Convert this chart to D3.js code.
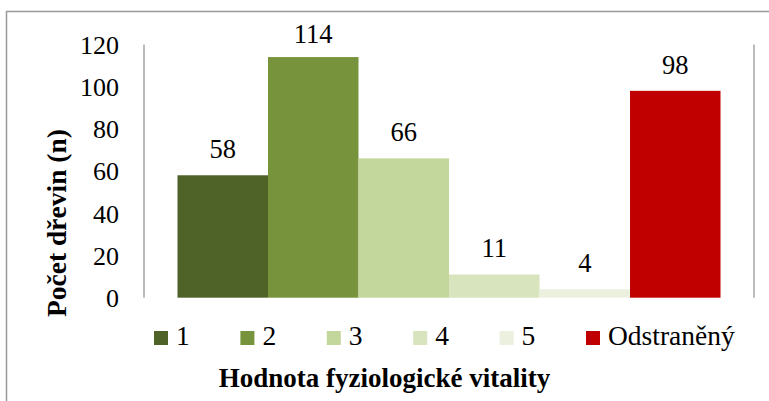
<!DOCTYPE html>
<html>
<head>
<meta charset="utf-8">
<script src="https://cdn.jsdelivr.net/npm/d3@7"></script>
<style>
  html, body { margin: 0; padding: 0; background: #fff; }
</style>
</head>
<body>
<svg id="chart"></svg>
<script>
// data
const categories = ["1", "2", "3", "4", "5", "Odstraněný"];
const counts = [58, 114, 66, 11, 4, 98];
const barColors = ["#4f6228", "#77933c", "#c3d69b", "#d7e4bd", "#ebf1de", "#c00000"];
const yTicks = [0, 20, 40, 60, 80, 100, 120];
const yTitle = "Počet dřevin (n)";
const xTitle = "Hodnota fyziologické vitality";

const FONT = '"Liberation Serif"';
const width = 769, height = 401;
const svg = d3.select("#chart").attr("width", width).attr("height", height);

// outer frame (only left and top visible, rest is cropped)
svg.append("path")
  .attr("d", `M6.5,${height} L6.5,11.5 L${width},11.5`)
  .attr("fill", "none")
  .attr("stroke", "#999")
  .attr("stroke-width", 1.5);

// plot area
const plot = { left: 144, right: 754, top: 44.4, bottom: 297.7 };

const x = d3.scaleBand()
  .domain(categories)
  .range([plot.left, plot.right])
  .paddingInner(0)
  .paddingOuter(0.37);

const y = d3.scaleLinear()
  .domain([0, 120])
  .range([plot.bottom, plot.top]);

// axis lines (left and right)
[plot.left, plot.right].forEach(px => {
  svg.append("line")
    .attr("x1", px).attr("x2", px)
    .attr("y1", plot.top).attr("y2", plot.bottom)
    .attr("stroke", "#a6a6a6")
    .attr("stroke-width", 1.5);
});

// y tick labels
const yAxis = d3.axisLeft(y).tickValues(yTicks).tickSize(0).tickPadding(0);
const yg = svg.append("g")
  .attr("transform", `translate(119,0)`)
  .call(yAxis)
  .attr("font-family", null)
  .attr("font-size", null);
yg.select(".domain").remove();
yg.selectAll("text")
  .style("font-family", FONT)
  .style("font-size", "26px")
  .attr("fill", "#000")
  .attr("dy", "0.34em");

// bars
svg.append("g")
  .selectAll("rect")
  .data(categories)
  .join("rect")
  .attr("x", d => x(d))
  .attr("width", x.bandwidth())
  .attr("y", (d, i) => y(counts[i]))
  .attr("height", (d, i) => y(0) - y(counts[i]))
  .attr("fill", (d, i) => barColors[i]);

// data labels (kept inside the chart area like Excel does)
svg.append("g")
  .selectAll("text")
  .data(categories)
  .join("text")
  .attr("x", d => x(d) + x.bandwidth() / 2)
  .attr("y", (d, i) => Math.max(y(counts[i]) - 17, 43))
  .attr("text-anchor", "middle")
  .style("font-family", FONT)
  .style("font-size", "26.5px")
  .attr("fill", "#000")
  .text((d, i) => counts[i]);

// legend
const legendStep = 86.4;
const legend = svg.append("g")
  .selectAll("g")
  .data(categories)
  .join("g")
  .attr("transform", (d, i) => `translate(${154 + i * legendStep},331)`);
legend.append("rect")
  .attr("width", 14).attr("height", 14)
  .attr("fill", (d, i) => barColors[i]);
legend.append("text")
  .attr("x", 22)
  .attr("y", 14)
  .style("font-family", FONT)
  .style("font-size", "27.5px")
  .attr("fill", "#000")
  .text(d => d);

// axis titles
svg.append("text")
  .attr("x", 384.5)
  .attr("y", 387)
  .attr("text-anchor", "middle")
  .style("font-family", FONT)
  .style("font-size", "27px")
  .style("font-weight", "bold")
  .text(xTitle);

svg.append("text")
  .attr("transform", "translate(66,223) rotate(-90)")
  .attr("text-anchor", "middle")
  .style("font-family", FONT)
  .style("font-size", "27.5px")
  .style("font-weight", "bold")
  .text(yTitle);
</script>
</body>
</html>
